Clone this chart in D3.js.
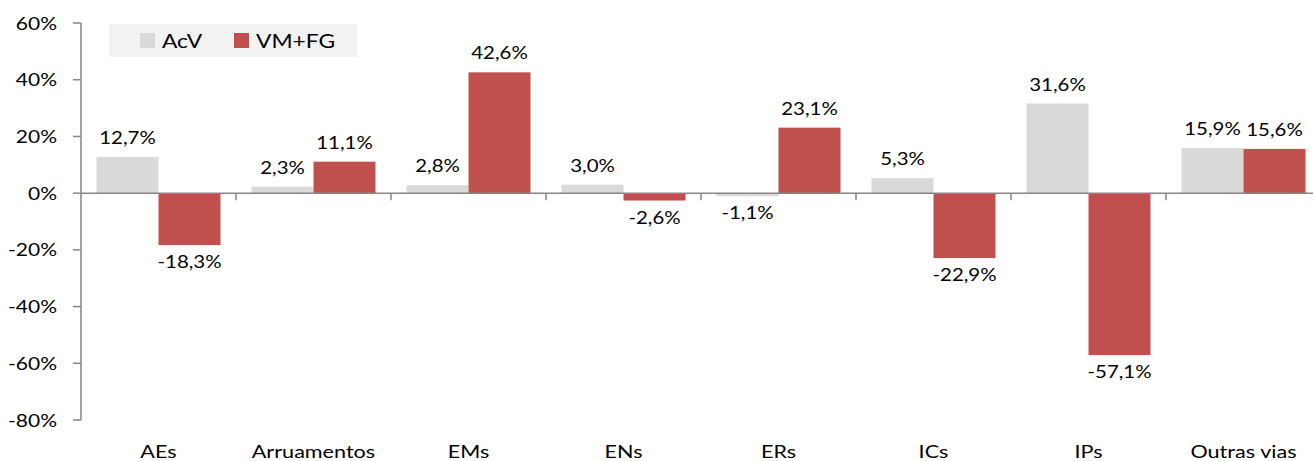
<!DOCTYPE html>
<html><head><meta charset="utf-8">
<script src="https://cdn.jsdelivr.net/npm/d3@7"></script>
<style>body{margin:0;background:#fff}svg{display:block}</style>
</head><body><svg id="c" width="1313" height="461"></svg>
<script>
const categories = ["AEs","Arruamentos","EMs","ENs","ERs","ICs","IPs","Outras vias"];
const seriesNames = ["AcV","VM+FG"];
const acv = [12.7, 2.3, 2.8, 3.0, -1.1, 5.3, 31.6, 15.9];
const vmfg = [-18.3, 11.1, 42.6, -2.6, 23.1, -22.9, -57.1, 15.6];
const yTicks = [60, 40, 20, 0, -20, -40, -60, -80];
const colors = ["#d9d9d9", "#c0504d"];

const FONT = "Lato, 'Open Sans', sans-serif";
const SX = 1.2;
const svg = d3.select("#c");
const x = d3.scaleBand().domain(categories).range([81, 1321]).padding(0);
const y = d3.scaleLinear().domain([-80, 60]).range([420, 23]);
const x1 = d3.scaleBand().domain(seriesNames).range([0, x.bandwidth()]).paddingOuter(0.25).paddingInner(0);

function txt(g, xx, yy, s, size, anchor) {
  const gg = g.append("g").attr("transform", `translate(${xx},${yy})`);
  gg.append("text").attr("transform", `scale(${SX},1)`).attr("text-anchor", anchor || "middle")
    .attr("font-family", FONT).attr("font-size", size).attr("fill", "#000").text(s);
  return gg;
}
const fmt = v => (v < 0 ? "-" : "") + Math.abs(v).toFixed(1).replace(".", ",") + "%";

// bars
const data = categories.map((c, i) => ({c, vals: [acv[i], vmfg[i]]}));
const gBars = svg.append("g");
data.forEach(d => {
  d.vals.forEach((v, j) => {
    const bx = x(d.c) + x1(seriesNames[j]);
    gBars.append("rect").attr("x", bx).attr("width", x1.bandwidth())
      .attr("y", Math.min(y(v), y(0))).attr("height", Math.abs(y(v) - y(0)))
      .attr("fill", colors[j]);
  });
});

// axes
const axCol = "#868686";
const gAx = svg.append("g");
gAx.append("line").attr("x1", 81).attr("x2", 81).attr("y1", y(60)).attr("y2", y(-80)).attr("stroke", axCol).attr("stroke-width", 1.5);
yTicks.forEach(t => {
  gAx.append("line").attr("x1", 73).attr("x2", 81).attr("y1", y(t)).attr("y2", y(t)).attr("stroke", axCol).attr("stroke-width", 1.5);
  txt(gAx, 57, y(t) + 6.5, t + "%", 17.5, "end");
});
gAx.append("line").attr("x1", 81).attr("x2", 1321).attr("y1", y(0)).attr("y2", y(0)).attr("stroke", axCol).attr("stroke-width", 1.5);
categories.forEach((c, i) => {
  if (i > 0) gAx.append("line").attr("x1", x(c)).attr("x2", x(c)).attr("y1", y(0)).attr("y2", y(0) + 7).attr("stroke", axCol).attr("stroke-width", 1.5);
  txt(gAx, x(c) + x.bandwidth() / 2, 458, c, 18);
});

// labels
data.forEach(d => {
  d.vals.forEach((v, j) => {
    const cx = x(d.c) + x1(seriesNames[j]) + x1.bandwidth() / 2;
    const ly = v >= 0 ? y(v) - 13 : y(v) + 23;
    txt(svg, cx, ly, fmt(v), 17);
  });
});

// legend
const lg = svg.append("g");
lg.append("rect").attr("x", 109).attr("y", 24).attr("width", 248).attr("height", 33).attr("fill", "#f2f2f2");
[[140, "AcV"], [234, "VM+FG"]].forEach(([lx, name], j) => {
  lg.append("rect").attr("x", lx).attr("y", 33).attr("width", 15).attr("height", 15).attr("fill", colors[j]);
  txt(lg, lx + 22, 48, name, 19, "start");
});
</script></body></html>
